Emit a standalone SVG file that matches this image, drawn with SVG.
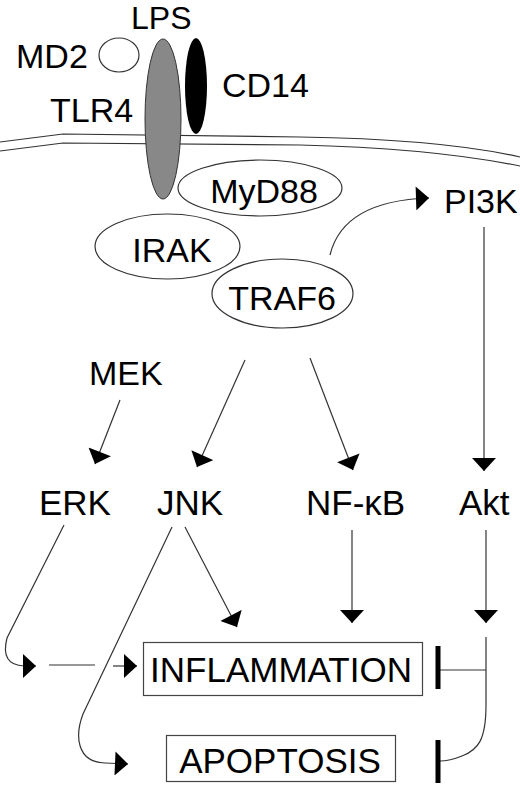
<svg xmlns="http://www.w3.org/2000/svg" width="520" height="786" viewBox="0 0 520 786">
<defs>
<style>
text{font-family:"Liberation Sans",Arial,sans-serif;font-size:34px;fill:#000}
.big{font-size:35px}
.ln{fill:none;stroke:#333;stroke-width:1.2}
.node{fill:#fff;stroke:#333;stroke-width:1.2}
.box{fill:#fff;stroke:#444;stroke-width:1.2}
.bar{fill:#000}
</style>
<marker id="ah" markerUnits="userSpaceOnUse" markerWidth="14" markerHeight="24" viewBox="0 0 13 24" refX="13" refY="12" orient="auto">
<path d="M0,0 L13,12 L0,24 Z" fill="#000"/>
</marker>
</defs>
<g id="membrane">
<path class="ln" d="M0,142 L63,134 L300,137 Q440,139 520,157"/>
<path class="ln" d="M0,151 L63,143 L300,145 Q430,148 520,166"/>
</g>
<g id="MD2">
<ellipse class="node" cx="119" cy="55" rx="20" ry="17"/>
<text x="16" y="68">MD2</text>
</g>
<g id="LPS"><text x="131" y="29" style="font-size:32px">LPS</text></g>
<g id="TLR4">
<ellipse cx="163" cy="119" rx="18" ry="80" fill="#888" stroke="#333" stroke-width="1"/>
<text x="50" y="122">TLR4</text>
</g>
<g id="CD14">
<ellipse cx="196" cy="86" rx="11" ry="48" fill="#000"/>
<text x="222" y="97">CD14</text>
</g>
<g id="IRAK">
<ellipse class="node" cx="167.5" cy="246.5" rx="72.5" ry="32.5"/>
<text x="172" y="262" text-anchor="middle">IRAK</text>
</g>
<g id="MyD88">
<ellipse class="node" cx="260" cy="188" rx="82" ry="28"/>
<text x="264" y="203" text-anchor="middle">MyD88</text>
</g>
<g id="TRAF6">
<ellipse class="node" cx="282.5" cy="293.5" rx="70.5" ry="34.5"/>
<text x="282" y="310" text-anchor="middle">TRAF6</text>
</g>
<g id="PI3K"><text x="444" y="213">PI3K</text></g>
<g id="MEK"><text x="89" y="385">MEK</text></g>
<g id="ERK"><text class="big" x="39" y="515">ERK</text></g>
<g id="JNK"><text class="big" x="157" y="515">JNK</text></g>
<g id="NFkB"><text class="big" x="306" y="515">NF-κB</text></g>
<g id="Akt"><text class="big" x="459" y="515">Akt</text></g>
<g id="INFLAMMATION">
<rect class="box" x="143.5" y="642.5" width="279" height="53"/>
<text class="big" x="281" y="682" text-anchor="middle">INFLAMMATION</text>
</g>
<g id="APOPTOSIS">
<rect class="box" x="166.5" y="735.5" width="229" height="46"/>
<text class="big" x="280" y="773" text-anchor="middle">APOPTOSIS</text>
</g>
<g id="connectors">
<path class="ln" d="M330,255 C338,222 368,200 429,198" marker-end="url(#ah)"/>
<path class="ln" d="M484,227 L484,471" marker-end="url(#ah)"/>
<path class="ln" d="M120,400 L95,464" marker-end="url(#ah)"/>
<path class="ln" d="M245,360 L197,467" marker-end="url(#ah)"/>
<path class="ln" d="M310,358 L353,470" marker-end="url(#ah)"/>
<path class="ln" d="M352,530 L352,623" marker-end="url(#ah)"/>
<path class="ln" d="M486,530 L486,623" marker-end="url(#ah)"/>
<path class="ln" d="M185,527 L237,627" marker-end="url(#ah)"/>
<path class="ln" d="M64,525 L7,638 Q0,665 24,666 L36,666" marker-end="url(#ah)"/>
<path class="ln" d="M49,665 L95,665"/>
<path class="ln" d="M113,666 L137,666" marker-end="url(#ah)"/>
<path class="ln" d="M172,527 L83,714 C75,735 76,762 105,763 L128,764" marker-end="url(#ah)"/>
<path class="ln" d="M486,637 L486,705 C486,740 478,750 462,756 C452,760 446,761 440,761"/>
<path class="ln" d="M486,670 L440,670"/>
<rect class="bar" x="435.5" y="646" width="5" height="43"/>
<rect class="bar" x="435.5" y="740" width="5" height="43"/>
</g>
</svg>
